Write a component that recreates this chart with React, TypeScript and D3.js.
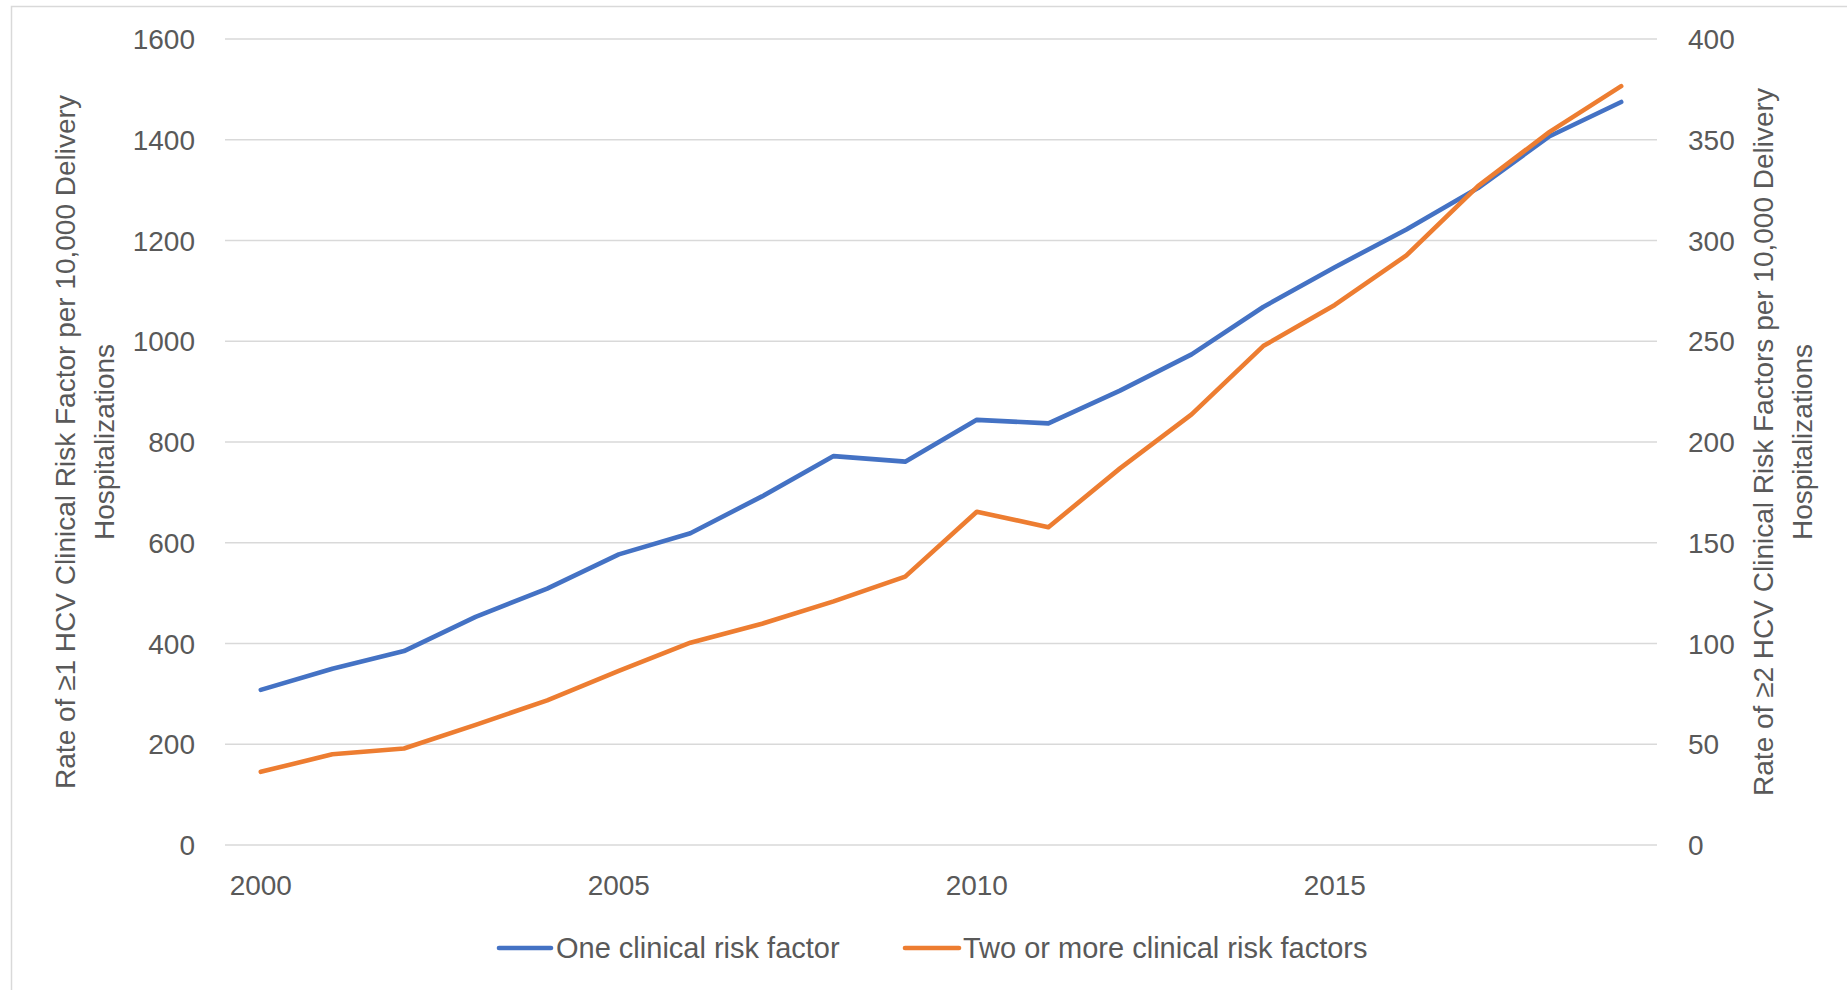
import { useEffect, useRef } from 'react'
import * as d3 from 'd3'

const years = [2000, 2001, 2002, 2003, 2004, 2005, 2006, 2007, 2008, 2009, 2010, 2011, 2012, 2013, 2014, 2015, 2016, 2017, 2018, 2019]
const oneFactor = [308, 350, 385, 453, 509, 577, 619, 692, 772, 761, 844, 837, 902, 974, 1068, 1147, 1222, 1304, 1407, 1475]
const twoOrMore = [36.3, 45, 47.9, 59.6, 71.8, 86.4, 100.4, 109.8, 120.9, 133.2, 165.4, 157.7, 186.9, 213.7, 247.6, 268, 292.6, 327, 353.9, 376.6]
const leftTicks = [0, 200, 400, 600, 800, 1000, 1200, 1400, 1600]
const rightTicks = [0, 50, 100, 150, 200, 250, 300, 350, 400]
const yearLabels = [2000, 2005, 2010, 2015]

const leftTitle = ['Rate of \u22651 HCV Clinical Risk Factor per 10,000 Delivery', 'Hospitalizations']
const rightTitle = ['Rate of \u22652 HCV Clinical Risk Factors per 10,000 Delivery', 'Hospitalizations']
const seriesNames = ['One clinical risk factor', 'Two or more clinical risk factors']

const BLUE = '#4472C4'
const ORANGE = '#ED7D31'
const TEXT = '#595959'
const FONT = '"Liberation Sans", Arial, sans-serif'

export default function App() {
  const svgRef = useRef<SVGSVGElement>(null)

  useEffect(() => {
    const width = 1847,
      height = 990
    const plot = { left: 225, right: 1657, top: 39, bottom: 845 }

    const svg = d3.select(svgRef.current).attr('width', width).attr('height', height)
    svg.selectAll('*').remove()

    svg
      .append('rect')
      .attr('x', 11.5)
      .attr('y', 6.5)
      .attr('width', 2000)
      .attr('height', 1200)
      .attr('fill', '#fff')
      .attr('stroke', '#d9d9d9')
      .attr('stroke-width', 1.5)

    const x = d3.scalePoint<number>().domain(years).range([plot.left, plot.right]).padding(0.5)
    const yLeft = d3.scaleLinear().domain([0, 1600]).range([plot.bottom, plot.top])
    const yRight = d3.scaleLinear().domain([0, 400]).range([plot.bottom, plot.top])

    // gridlines
    svg
      .append('g')
      .selectAll('line')
      .data(leftTicks)
      .join('line')
      .attr('x1', plot.left)
      .attr('x2', plot.right)
      .attr('y1', (d) => yLeft(d))
      .attr('y2', (d) => yLeft(d))
      .attr('stroke', '#d9d9d9')
      .attr('stroke-width', 1.6)

    const txt = svg.append('g').style('font-family', FONT).style('font-size', '28px').attr('fill', TEXT)

    // left tick labels
    txt
      .append('g')
      .selectAll('text')
      .data(leftTicks)
      .join('text')
      .attr('x', 195)
      .attr('y', (d) => yLeft(d))
      .attr('dy', '0.36em')
      .attr('text-anchor', 'end')
      .text((d) => d)

    // right tick labels
    txt
      .append('g')
      .selectAll('text')
      .data(rightTicks)
      .join('text')
      .attr('x', 1688)
      .attr('y', (d) => yRight(d))
      .attr('dy', '0.36em')
      .attr('text-anchor', 'start')
      .text((d) => d)

    // x labels
    txt
      .append('g')
      .selectAll('text')
      .data(yearLabels)
      .join('text')
      .attr('x', (d) => x(d)!)
      .attr('y', 885)
      .attr('dy', '0.36em')
      .attr('text-anchor', 'middle')
      .text((d) => d)

    // axis titles
    const cy = (plot.top + plot.bottom) / 2
    ;[75, 114].forEach((bx, i) => {
      txt
        .append('text')
        .attr('transform', `translate(${bx},${cy}) rotate(-90)`)
        .attr('text-anchor', 'middle')
        .text(leftTitle[i])
    })
    ;[1773, 1812].forEach((bx, i) => {
      txt
        .append('text')
        .attr('transform', `translate(${bx},${cy}) rotate(-90)`)
        .attr('text-anchor', 'middle')
        .text(rightTitle[i])
    })

    // lines
    const lineLeft = d3
      .line<number>()
      .x((_, i) => x(years[i])!)
      .y((d) => yLeft(d))
    const lineRight = d3
      .line<number>()
      .x((_, i) => x(years[i])!)
      .y((d) => yRight(d))

    svg
      .append('path')
      .datum(oneFactor)
      .attr('d', lineLeft)
      .attr('fill', 'none')
      .attr('stroke', BLUE)
      .attr('stroke-width', 4.6)
      .attr('stroke-linejoin', 'round')
      .attr('stroke-linecap', 'round')

    svg
      .append('path')
      .datum(twoOrMore)
      .attr('d', lineRight)
      .attr('fill', 'none')
      .attr('stroke', ORANGE)
      .attr('stroke-width', 4.6)
      .attr('stroke-linejoin', 'round')
      .attr('stroke-linecap', 'round')

    // legend
    const legend = [
      { name: seriesNames[0], color: BLUE, x0: 499, x1: 551, tx: 556 },
      { name: seriesNames[1], color: ORANGE, x0: 905, x1: 959, tx: 963 },
    ]
    const lg = svg.append('g')
    legend.forEach((l) => {
      lg.append('line')
        .attr('x1', l.x0)
        .attr('x2', l.x1)
        .attr('y1', 948)
        .attr('y2', 948)
        .attr('stroke', l.color)
        .attr('stroke-width', 4.6)
        .attr('stroke-linecap', 'round')
      lg.append('text')
        .attr('x', l.tx)
        .attr('y', 948)
        .attr('dy', '0.36em')
        .style('font-family', FONT)
        .style('font-size', '29px')
        .attr('fill', TEXT)
        .text(l.name)
    })
  }, [])

  return (
    <div style={{ position: 'fixed', left: 0, top: 0, width: 1847, height: 990, overflow: 'hidden', background: '#fff' }}>
      <svg ref={svgRef} style={{ display: 'block' }}></svg>
    </div>
  )
}
